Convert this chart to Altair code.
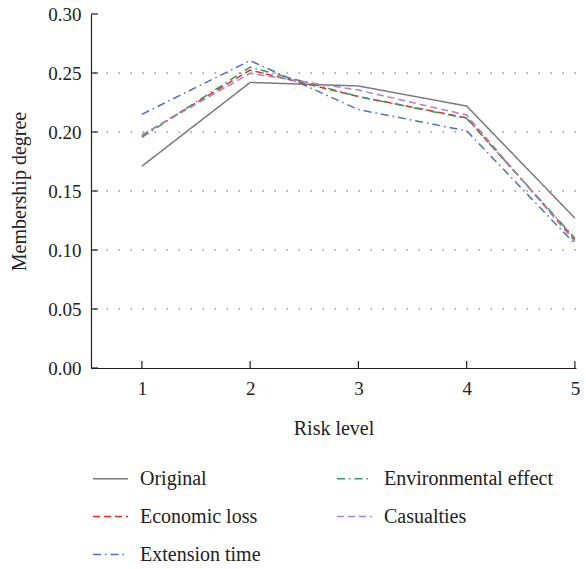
import altair as alt
import pandas as pd

levels = [1, 2, 3, 4, 5]
original = [0.171, 0.242, 0.239, 0.222, 0.127]
economic_loss = [0.197, 0.2525, 0.230, 0.212, 0.109]
extension_time = [0.215, 0.2605, 0.219, 0.201, 0.105]
environmental = [0.1955, 0.255, 0.230, 0.2115, 0.110]
casualties = [0.1975, 0.2497, 0.2355, 0.2144, 0.107]

series_names = ["Original", "Economic loss", "Extension time", "Environmental effect", "Casualties"]
series_vals = [original, economic_loss, extension_time, environmental, casualties]
colors = ["#7a7a7a", "#f02828", "#4a72c4", "#2ea05a", "#b07fcf"]
dashes = [[1, 0], [7, 4], [8, 4, 1.5, 4], [8, 4, 1.5, 4], [7, 4]]

y_ticks = [0.0, 0.05, 0.10, 0.15, 0.20, 0.25, 0.30]
grid_vals = [0.05, 0.10, 0.15, 0.20, 0.25]

rows = []
for name, vals in zip(series_names, series_vals):
    for lv, v in zip(levels, vals):
        rows.append({"level": lv, "value": v, "series": name})
df = pd.DataFrame(rows)

FONT = "Liberation Serif"
xscale = alt.Scale(domain=[0.53, 5.01], nice=False, zero=False)
yscale = alt.Scale(domain=[0, 0.30], nice=False)

yaxis = alt.Axis(values=y_ticks, format=".2f", title="Membership degree", tickSize=0,
                 labelPadding=10, titlePadding=18, grid=False)
xaxis = alt.Axis(values=levels, format="d", title="Risk level", tickSize=0,
                 labelPadding=11, titlePadding=20, grid=False)

grid = alt.Chart(pd.DataFrame({"g": grid_vals})).mark_rule(
    color="#666666", strokeDash=[1.5, 10.5], strokeWidth=1.2
).encode(y=alt.Y("g:Q", scale=yscale, axis=yaxis))

lines = alt.Chart(df).mark_line(strokeWidth=1.5).encode(
    x=alt.X("level:Q", scale=xscale, axis=xaxis),
    y=alt.Y("value:Q", scale=yscale, axis=yaxis),
    color=alt.Color("series:N", scale=alt.Scale(domain=series_names, range=colors),
                    legend=alt.Legend(title=None, orient="none", legendX=1, legendY=446,
                                      columns=2, symbolType="stroke", symbolSize=1225,
                                      symbolStrokeWidth=1.5, columnPadding=73,
                                      labelFont=FONT, labelFontSize=20, labelColor="#222222",
                                      labelOffset=11, labelLimit=400, rowPadding=9)),
    strokeDash=alt.StrokeDash("series:N", scale=alt.Scale(domain=series_names, range=dashes)),
    order=alt.Order("level:Q"),
)

yticks = alt.Chart(pd.DataFrame({"t": y_ticks})).mark_rule(color="#222222", strokeWidth=1.2).encode(
    y=alt.Y("t:Q", scale=yscale, axis=yaxis), x=alt.value(0), x2=alt.value(7)
)
xticks = alt.Chart(pd.DataFrame({"t": levels})).mark_rule(color="#222222", strokeWidth=1.2).encode(
    x=alt.X("t:Q", scale=xscale, axis=xaxis), y=alt.value(354), y2=alt.value(347)
)

chart = alt.layer(grid, lines, yticks, xticks).properties(
    width=485, height=354,
    autosize=alt.AutoSizeParams(type="none"),
    padding={"left": 91, "top": 14, "right": 10, "bottom": 201},
).configure_view(stroke=None).configure_axis(
    domainColor="#222222", domainWidth=1.2,
    labelFont=FONT, labelFontSize=19, labelColor="#222222",
    titleFont=FONT, titleFontSize=20, titleColor="#222222", titleFontWeight="normal",
)

chart.save("out.html", embed_options={"renderer": "svg", "actions": False})
